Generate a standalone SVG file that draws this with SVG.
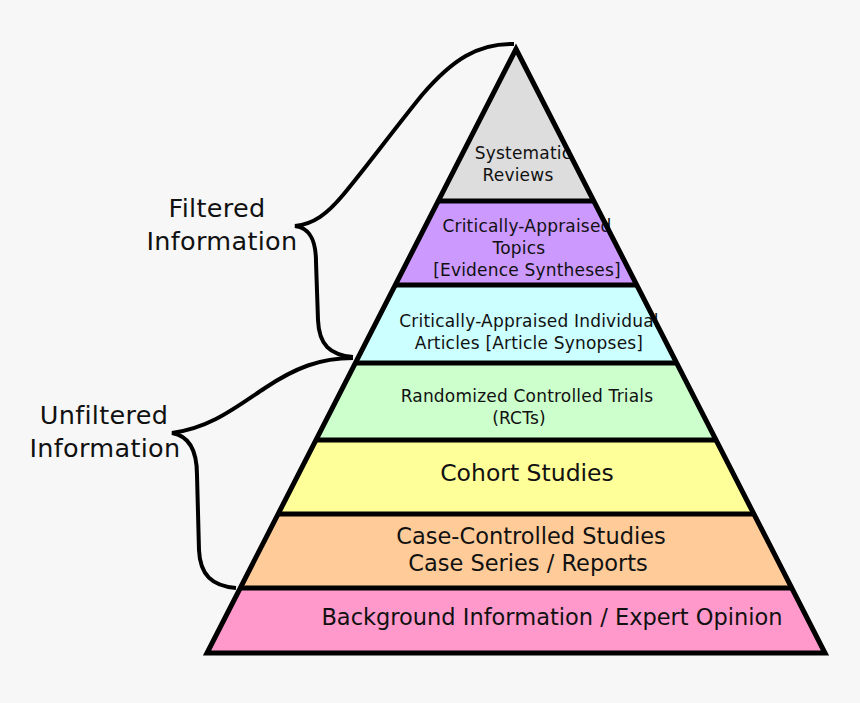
<svg xmlns="http://www.w3.org/2000/svg" width="860" height="703" viewBox="0 0 860 703">
<style>
text{font-family:"DejaVu Sans","Liberation Sans",sans-serif;fill:#111;text-anchor:middle}
.s{font-size:17px;letter-spacing:0.2px}
.m{font-size:22.5px}
.l{font-size:25.5px;letter-spacing:0.3px}
.edge{fill:none;stroke:#000;stroke-width:5;stroke-linejoin:miter;stroke-miterlimit:10}
.brace{fill:none;stroke:#000;stroke-width:4;stroke-linecap:butt}
</style>
<rect width="860" height="703" fill="#f7f7f7"/>
<g id="systematic-reviews">
<polygon points="516,49 593.8,201 438.2,201" fill="#dddddd"/>
<text class="s" x="523" y="159">Systematic</text>
<text class="s" x="518" y="181">Reviews</text>
</g>
<g id="critically-appraised-topics">
<polygon points="438.2,201 593.8,201 636.7,285 395.3,285" fill="#cc99ff"/>
<text class="s" x="527" y="232">Critically-Appraised</text>
<text class="s" x="519" y="254">Topics</text>
<text class="s" x="527" y="276">[Evidence Syntheses]</text>
</g>
<g id="critically-appraised-articles">
<polygon points="395.3,285 636.7,285 676.6,363 355.4,363" fill="#ccffff"/>
<text class="s" x="529" y="327">Critically-Appraised Individual</text>
<text class="s" x="529" y="349">Articles [Article Synopses]</text>
</g>
<g id="rcts">
<polygon points="355.4,363 676.6,363 716,440 316,440" fill="#ccffcc"/>
<text class="s" x="527" y="402">Randomized Controlled Trials</text>
<text class="s" x="519" y="424">(RCTs)</text>
</g>
<g id="cohort-studies">
<polygon points="316,440 716,440 753.9,514 278.1,514" fill="#ffff99"/>
<text class="m" x="527" y="481" style="font-size:23.5px">Cohort Studies</text>
</g>
<g id="case-controlled">
<polygon points="278.1,514 753.9,514 791.8,588 240.2,588" fill="#ffcc99"/>
<text class="m" x="531" y="544">Case-Controlled Studies</text>
<text class="m" x="528" y="571">Case Series / Reports</text>
</g>
<g id="background">
<polygon points="240.2,588 791.8,588 825,653 207,653" fill="#ff99cc"/>
<text class="m" x="552" y="625">Background Information / Expert Opinion</text>
</g>
<g id="outline">
<polygon class="edge" points="516,49 825,653 207,653"/>
<line class="edge" x1="438.2" y1="201" x2="593.8" y2="201"/>
<line class="edge" x1="395.3" y1="285" x2="636.7" y2="285"/>
<line class="edge" x1="355.4" y1="363" x2="676.6" y2="363"/>
<line class="edge" x1="316" y1="440" x2="716" y2="440"/>
<line class="edge" x1="278.1" y1="514" x2="753.9" y2="514"/>
<line class="edge" x1="240.2" y1="588" x2="791.8" y2="588"/>
</g>
<g id="filtered-label">
<text class="l" x="217" y="217">Filtered</text>
<text class="l" x="222" y="250">Information</text>
</g>
<g id="unfiltered-label">
<text class="l" x="104" y="424">Unfiltered</text>
<text class="l" x="105" y="457">Information</text>
</g>
<g id="connectors">
<path class="brace" d="M514,44 C478,43 452,60 422,95 C392,132 368,165 343,195 C327,214 314,224 295,226 C310,228 316,240 316,262 L318,320 C319,345 330,355 353,357"/>
<path class="brace" d="M353,358 C320,358 295,368 265,388 C235,408 210,428 172,433 C190,436 197,452 197,475 L199,550 C200,575 212,586 236,588"/>
</g>
</svg>
